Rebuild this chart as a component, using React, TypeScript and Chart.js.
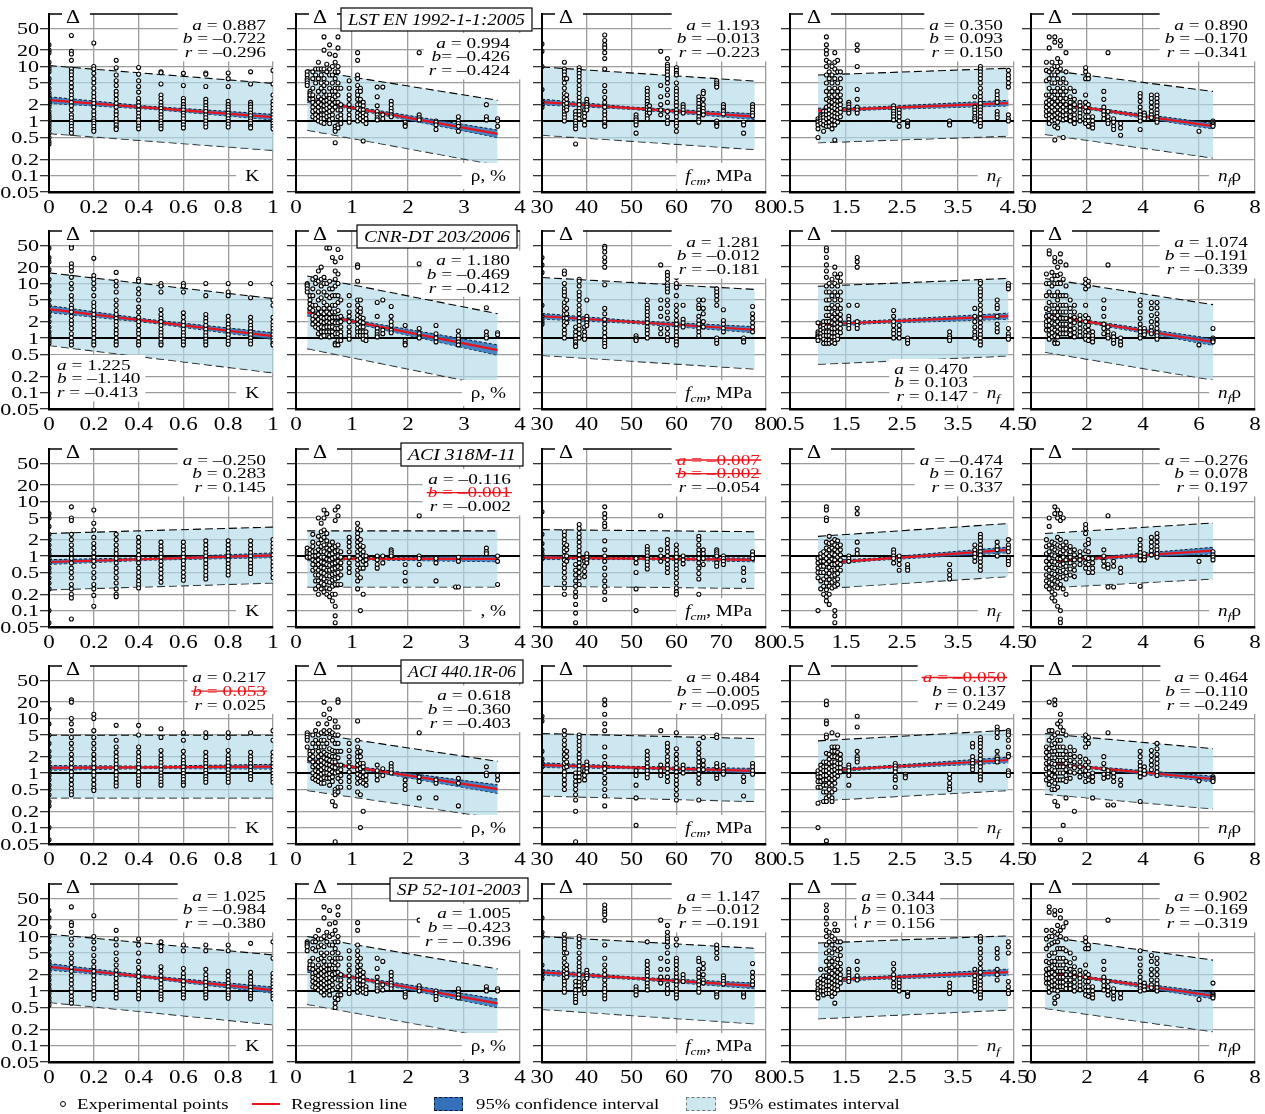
import React, { useEffect, useRef } from 'react';
import { Chart, registerables } from 'chart.js';
Chart.register(...registerables);

type Cluster = [number, number[]];

// ---------- axes ----------
const Y_MIN = 0.05, Y_MAX = 92;
const Y_TICKS = [0.05, 0.1, 0.2, 0.5, 1, 2, 5, 10, 20, 50];
const X_MIN = [0, 0, 30, 0.5, 0];
const X_MAX = [1, 4, 80, 4.5, 8];
const X_TICKS = [[0, 0.2, 0.4, 0.6, 0.8, 1], [0, 1, 2, 3, 4], [30, 40, 50, 60, 70, 80], [0.5, 1.5, 2.5, 3.5, 4.5], [0, 2, 4, 6, 8]];
const BAND_X = [[0, 1], [0.2, 3.6], [30, 77.5], [1, 4.4], [0.5, 6.5]];
const MID_X = [0.45, 1.0, 50, 2.0, 2.0];
const TITLES = ['LST EN 1992-1-1:2005', 'CNR-DT 203/2006', 'ACI 318M-11', 'ACI 440.1R-06', 'SP 52-101-2003'];

// ---------- regression parameters (ln Δ = a + b x) ----------
const REG_A = [
  [0.887, 0.994, 1.193, 0.350, 0.890],
  [1.225, 1.180, 1.281, 0.470, 1.074],
  [-0.250, -0.116, -0.007, -0.474, -0.276],
  [0.217, 0.618, 0.484, -0.050, 0.464],
  [1.025, 1.005, 1.147, 0.344, 0.902],
];
const REG_B = [
  [-0.722, -0.426, -0.013, 0.093, -0.170],
  [-1.140, -0.469, -0.012, 0.103, -0.191],
  [0.283, -0.001, -0.002, 0.167, 0.078],
  [0.053, -0.360, -0.005, 0.137, -0.110],
  [-0.984, -0.423, -0.012, 0.103, -0.169],
];
const STATS = [
  [['a = 0.887', 'b = –0.722', 'r = –0.296'], ['a = 0.994', 'b= –0.426', 'r = –0.424'], ['a = 1.193', 'b = –0.013', 'r = –0.223'], ['a = 0.350', 'b = 0.093', 'r = 0.150'], ['a = 0.890', 'b = –0.170', 'r = –0.341']],
  [['a = 1.225', 'b = –1.140', 'r = –0.413'], ['a = 1.180', 'b = –0.469', 'r = –0.412'], ['a = 1.281', 'b = –0.012', 'r = –0.181'], ['a = 0.470', 'b = 0.103', 'r = 0.147'], ['a = 1.074', 'b = –0.191', 'r = –0.339']],
  [['a = –0.250', 'b = 0.283', 'r = 0.145'], ['a = –0.116', 'b = –0.001', 'r = –0.002'], ['a = –0.007', 'b = –0.002', 'r = –0.054'], ['a = –0.474', 'b = 0.167', 'r = 0.337'], ['a = –0.276', 'b = 0.078', 'r = 0.197']],
  [['a = 0.217', 'b = 0.053', 'r = 0.025'], ['a = 0.618', 'b = –0.360', 'r = –0.403'], ['a = 0.484', 'b = –0.005', 'r = –0.095'], ['a = –0.050', 'b = 0.137', 'r = 0.249'], ['a = 0.464', 'b = –0.110', 'r = –0.249']],
  [['a = 1.025', 'b = –0.984', 'r = –0.380'], ['a = 1.005', 'b = –0.423', 'r = – 0.396'], ['a = 1.147', 'b = –0.012', 'r = –0.191'], ['a = 0.344', 'b = 0.103', 'r = 0.156'], ['a = 0.902', 'b = –0.169', 'r = –0.319']],
];
const STRUCK = [
  [[0, 0, 0], [0, 0, 0], [0, 0, 0], [0, 0, 0], [0, 0, 0]],
  [[0, 0, 0], [0, 0, 0], [0, 0, 0], [0, 0, 0], [0, 0, 0]],
  [[0, 0, 0], [0, 1, 0], [1, 1, 0], [0, 0, 0], [0, 0, 0]],
  [[0, 1, 0], [0, 0, 0], [0, 0, 0], [1, 0, 0], [0, 0, 0]],
  [[0, 0, 0], [0, 0, 0], [0, 0, 0], [0, 0, 0], [0, 0, 0]],
];
// 95% estimates interval: [upper@left, upper@right, lower@left, lower@right]
const EST = [
  [[10.4, 4.9, 0.59, 0.29], [8.7, 2.4, 0.68, 0.155], [9.8, 5.4, 0.55, 0.30], [7.0, 9.3, 0.40, 0.53], [8.7, 3.5, 0.57, 0.21]],
  [[15.7, 5.3, 0.73, 0.23], [13.8, 2.8, 0.64, 0.126], [12.9, 7.8, 0.48, 0.27], [8.9, 12.4, 0.33, 0.47], [12.4, 4.1, 0.55, 0.17]],
  [[2.6, 3.4, 0.24, 0.32], [2.9, 2.9, 0.27, 0.27], [3.05, 2.8, 0.28, 0.256], [2.3, 3.95, 0.25, 0.42], [2.6, 4.05, 0.26, 0.38]],
  [[4.95, 4.95, 0.35, 0.35], [5.5, 1.64, 0.48, 0.148], [5.3, 4.3, 0.38, 0.30], [3.9, 6.1, 0.31, 0.48], [5.3, 2.8, 0.41, 0.22]],
  [[11.1, 4.6, 0.62, 0.24], [10.0, 2.55, 0.57, 0.134], [10.0, 6.1, 0.46, 0.25], [7.6, 10.3, 0.31, 0.45], [10.0, 3.7, 0.48, 0.18]],
];
// 95% confidence interval half-widths (ln units) at left, middle, right
const CONF = [
  [[0.14, 0.06, 0.12], [0.12, 0.06, 0.16], [0.12, 0.05, 0.12], [0.10, 0.06, 0.12], [0.08, 0.05, 0.12]],
  [[0.15, 0.07, 0.14], [0.15, 0.07, 0.22], [0.12, 0.06, 0.13], [0.12, 0.06, 0.13], [0.10, 0.06, 0.14]],
  [[0.10, 0.05, 0.10], [0.08, 0.04, 0.12], [0.08, 0.04, 0.08], [0.10, 0.05, 0.12], [0.08, 0.05, 0.14]],
  [[0.10, 0.05, 0.10], [0.10, 0.05, 0.18], [0.10, 0.05, 0.10], [0.10, 0.05, 0.12], [0.08, 0.05, 0.12]],
  [[0.14, 0.06, 0.13], [0.12, 0.06, 0.18], [0.12, 0.05, 0.12], [0.10, 0.06, 0.13], [0.08, 0.05, 0.13]],
];

// ---------- experimental points: [x, [Δ values]] ----------
const P11: Cluster[] = [[0, [25, 20, 18, 12, 10, 9, 8, 6, 5, 4, 3.3, 3, 2.6, 2.2, 2, 1.8, 1.5, 1.3, 1.2, 1.1, 1, 0.9, 0.8, 0.7, 0.6, 0.5, 0.42, 0.38]], [0.1, [37, 19, 17, 13, 9, 8, 7, 6, 5, 4.2, 3.5, 3, 2.6, 2.2, 1.9, 1.6, 1.3, 1.15, 1, 0.9, 0.8, 0.7, 0.6]], [0.2, [27, 10, 9, 7.5, 6, 5, 4, 3.3, 2.8, 2.4, 2.1, 1.8, 1.5, 1.3, 1.1, 1, 0.9, 0.8, 0.7, 0.65]], [0.3, [13, 9.5, 7, 5.5, 4.5, 3.5, 3, 2.5, 2.1, 1.8, 1.5, 1.3, 1.1, 0.95, 0.85, 0.75, 0.7]], [0.4, [9.6, 7.2, 5.5, 4.3, 3.4, 2.6, 2.2, 1.9, 1.6, 1.4, 1.2, 1.05, 0.92, 0.8, 0.72]], [0.5, [8, 7.7, 4.8, 3, 2.6, 2.2, 1.9, 1.7, 1.5, 1.3, 1.15, 1, 0.9, 0.8, 0.72]], [0.6, [7.5, 4.5, 2.6, 2.3, 2, 1.8, 1.6, 1.4, 1.25, 1.1, 0.95, 0.85, 0.75]], [0.7, [7.6, 7.2, 4.3, 2.5, 2.2, 1.9, 1.7, 1.5, 1.3, 1.15, 1, 0.88, 0.78]], [0.8, [7.6, 6, 4.3, 2.3, 2, 1.8, 1.6, 1.4, 1.25, 1.1, 0.98, 0.88, 0.78]], [0.9, [8, 4.8, 2.2, 2, 1.8, 1.6, 1.4, 1.25, 1.1, 1, 0.9, 0.8, 0.75]], [1, [8.5, 4.8, 3, 2.3, 2, 1.7, 1.5, 1.3, 1.15, 1, 0.9, 0.8, 0.72]]];
const P12: Cluster[] = [[0.2, [8, 7, 6, 5.5, 5, 4.5]], [0.25, [3.5, 3.2, 3, 2.5]], [0.3, [8, 6, 4, 3, 2.5, 2.2, 1.8, 1.5, 1.2]], [0.35, [9, 7, 5, 2, 1.6, 1.3, 1.1]], [0.4, [12, 9, 6, 3.5, 2.8, 2.2, 1.8, 1.5, 1.2, 1]], [0.45, [9, 7, 5, 4, 2.5, 2, 1.6, 1.3, 1.1, 0.95]], [0.5, [35, 20, 9, 6, 4.5, 3.5, 2.8, 2.3, 1.9, 1.6, 1.3, 1.1, 0.9]], [0.55, [11, 8, 5, 3, 2.4, 2, 1.7, 1.4, 1.2]], [0.6, [25, 17, 9, 7, 4, 3, 2.6, 2.2, 1.8, 1.5, 1.25, 1.05, 0.9]], [0.65, [10, 7, 5, 3.5, 2.5, 2, 1.6, 1.3, 1.1]], [0.7, [16, 12, 8, 6, 4, 3.5, 2.8, 2.2, 1.8, 0.8, 0.7, 0.65, 0.4]], [0.75, [35, 22, 10, 8, 5, 4, 3, 2.2, 1.6, 1.2, 0.85, 0.75]], [0.8, [4, 2, 1.6, 1.3, 1.1, 0.9]], [0.95, [5.5, 4, 3, 2.5, 2, 1.6, 1.3, 1.1, 0.95]], [1.1, [18, 13, 7, 6, 4.5, 3.5, 3, 2.5, 2, 1.7, 1.4, 1.2, 1]], [1.15, [4, 3.5, 2.5, 2, 1.6, 1.3, 1.1]], [1.2, [2.2, 1.9, 1.6, 1.4, 1.2, 1, 0.43]], [1.25, [1.3, 1.1, 0.9]], [1.45, [4.2, 2.8, 1.9, 1.5, 1.3, 1.15, 1.05]], [1.55, [4.2, 1.3, 1.1]], [1.7, [2.3, 2, 1.7, 1.5, 1.3, 1.2]], [1.95, [0.95, 0.85, 0.8]], [2.2, [18, 1.3, 1.15, 1.05]], [2.5, [1, 0.95, 0.85, 0.7]], [2.9, [1.2, 1, 0.9, 0.8, 0.65]], [3.4, [2, 1.2, 1.05]], [3.6, [1.1, 1, 0.8]]];
const P13: Cluster[] = [[30, [26, 19, 10, 3.8, 2.3, 2, 1.8]], [35, [12, 9, 8, 7, 6, 5, 4, 3.2, 2.7, 2.3, 2, 1.7, 1.5, 1.3, 1.15, 1]], [35.5, [6, 3, 2.5, 2.1, 1.8, 1.6]], [37.5, [1.5, 1.3, 1.15, 1, 0.9, 0.8, 0.72, 0.38]], [38.3, [9.5, 8.5, 7.5, 6.5, 5.5, 4.5, 3.8, 3.2, 2.7, 2.3, 2, 1.7, 1.5, 1.3, 1.1]], [39.5, [1.6, 1.4, 1.2, 1, 0.85]], [40, [2.5, 2.2, 2, 1.8, 1.6]], [44, [38, 30, 25, 22, 18, 14, 9, 4.5, 3.5, 2.7, 2.2, 1.8, 1.5, 1.3, 1.1, 0.95, 0.85, 0.8]], [51, [1.3, 1.15, 1.05, 0.95, 0.85, 0.6]], [53.5, [4, 3.5, 3, 2.6, 2.3, 2, 1.8, 1.6, 1.4, 1.25, 1.1]], [54, [1.9, 1.6, 1.4]], [56.5, [19, 4.5, 2.8, 2, 1.6, 1.3]], [58, [14, 11, 10, 9, 8, 7, 6, 5, 3.8, 3, 2.2, 1.5, 1.2, 1, 0.9]], [60, [9.5, 8.5, 7.5, 7, 5, 4, 3.5, 3, 2.6, 2.2, 1.9, 1.6, 1.4, 1.2, 1, 0.9, 0.8, 0.65]], [61.5, [2, 1.8, 1.6, 1.4]], [65, [2.8, 2.4, 2.1, 1.8, 1.6, 1.4, 1.2, 1.05, 0.95]], [66, [3.5, 3.2, 2.5, 2, 1.7, 1.5, 1.3]], [69, [5.5, 5, 4.6, 4.2, 1, 0.9, 0.85, 0.8]], [70.5, [2, 1.8, 1.6, 1.5, 1.35]], [75, [0.95, 0.85, 0.6]], [77, [2, 1.8, 1.6, 1.4, 1.25]]];
const P14: Cluster[] = [[1, [1.1, 1, 0.95, 0.85, 0.72, 0.5]], [1.05, [1.3, 1.2, 1.1, 1, 0.9]], [1.1, [1.5, 1.3, 1.15, 1, 0.85, 0.65]], [1.15, [35, 25, 20, 17, 13, 10, 7, 5, 3.5, 2.5, 1.8, 1.5, 1.3, 1.1, 0.9, 0.8]], [1.2, [12, 8, 6, 4, 3, 2.3, 1.9, 1.6, 1.35, 1.15, 0.95, 0.8]], [1.25, [10, 7, 5, 3.5, 2.8, 2.2, 1.8, 1.5, 1.25, 1.05, 0.85, 0.72]], [1.3, [18, 12, 9, 6, 4, 3, 2.4, 2, 1.7, 1.4, 1.2, 1, 0.85, 0.45]], [1.35, [13, 8, 5, 3.5, 2.8, 2.3, 1.9, 1.6, 1.35, 1.15, 0.95]], [1.4, [8, 6, 4, 3, 2.4, 2, 1.7, 1.45, 1.2]], [1.55, [2.2, 2, 1.8, 1.6, 1.5, 1.4]], [1.7, [25, 20, 10, 3.8, 2.5, 1.8, 1.6, 1.4]], [2.35, [1.9, 1.7, 1.5, 1.35, 1.2, 1.05]], [2.45, [1.6, 1.4, 1.2, 1, 0.8]], [2.6, [1, 0.9, 0.85, 0.8]], [3.35, [1, 0.9, 0.85]], [3.8, [2.8, 1.8, 1.6, 1.4, 1.2, 1.1, 1]], [3.9, [10, 9, 8, 7, 6, 5, 4, 3.3, 2.8, 2.4, 2.1, 1.8, 1.6, 1.4, 1.2, 1.05, 0.9, 0.8]], [4.2, [3.5, 3, 2.6, 2.2, 1.5, 1.3, 1.15]], [4.4, [8.5, 7, 6, 5, 4.2, 1.3, 1.1, 1]]];
const P15: Cluster[] = [[0.55, [12, 8.5, 5.5, 3, 2.2, 1.8, 1.5, 1.25]], [0.65, [35, 22, 8, 6, 4, 3, 2.4, 2, 1.6, 1.3, 1.1, 0.9]], [0.75, [12, 9, 7, 5, 3.5, 2.8, 2.2, 1.8, 1.5, 1.2, 1]], [0.85, [35, 28, 10, 7, 5, 3.5, 2.6, 2, 1.6, 1.3, 1.05, 0.8, 0.45]], [0.95, [14, 10, 8, 6, 4, 3, 2.3, 1.8, 1.4, 1.15, 0.95, 0.75]], [1.05, [30, 24, 12, 9, 5, 3.5, 2.6, 2, 1.6, 1.3, 1.1]], [1.15, [6, 4, 3, 2.3, 1.8, 1.5, 1.25, 1.05, 0.5]], [1.25, [18, 8, 5, 3.5, 2.6, 2, 1.6, 1.3, 1.1]], [1.4, [4, 2.8, 2.2, 1.8, 1.5, 1.2, 1]], [1.55, [3.5, 2.5, 2, 1.6, 1.3, 1.1, 0.9]], [1.75, [2.2, 1.9, 1.6, 1.4, 1.2, 1]], [1.95, [9.5, 8, 6, 3, 2.2, 1.8, 1.5, 1.2, 1, 0.9]], [2.05, [7, 6, 2, 1.5, 1.2, 1, 0.8]], [2.2, [1.2, 1, 0.85, 0.75]], [2.6, [3.5, 2.5, 1.8, 1.5, 1.3, 1.1]], [2.75, [18, 1.5, 1.2, 1, 0.9]], [2.95, [1.1, 0.95, 0.8, 0.7]], [3.2, [0.9, 0.75, 0.55]], [3.9, [3.2, 2.8, 2.3, 1.8, 1.5, 1.3, 1.15, 1, 0.7]], [4.05, [1.4, 1.25, 1.1]], [4.3, [3, 2.6, 2.2, 1.8, 1.5, 1.3, 1.15]], [4.5, [3, 2.6, 2.2, 1.9, 1.6, 1.4, 1.2, 1.05, 0.95]], [6, [0.65]], [6.5, [1, 0.95, 0.9, 0.85, 0.8]]];

const P21: Cluster[] = [[0, [45, 30, 25, 18, 12, 9, 7, 5, 4, 3, 2.5, 2, 1.6, 1.3, 1.1, 0.9, 0.8]], [0.1, [48, 45, 23, 20, 17, 13, 10, 8, 6, 5, 4, 3.5, 3, 2.5, 2.1, 1.8, 1.5, 1.2, 1, 0.85, 0.75]], [0.2, [29, 14, 12, 10, 8, 6, 4.5, 3.8, 3.2, 2.7, 2.3, 2, 1.7, 1.4, 1.2, 1, 0.85, 0.75]], [0.3, [16, 11, 9, 7, 5, 4, 3.2, 2.7, 2.3, 2, 1.7, 1.4, 1.2, 1, 0.85, 0.75]], [0.4, [12, 11, 8, 6.5, 5, 3.7, 3, 2.4, 2, 1.7, 1.4, 1.2, 1, 0.85, 0.75]], [0.5, [10, 9, 7, 3.3, 2.7, 2.3, 2, 1.7, 1.45, 1.25, 1.1, 0.95, 0.82, 0.75]], [0.6, [10, 9, 7, 2.9, 2.4, 2, 1.7, 1.45, 1.25, 1.1, 0.95, 0.85, 0.75]], [0.7, [10, 6, 2.7, 2.3, 2, 1.7, 1.45, 1.25, 1.1, 0.95, 0.85, 0.75]], [0.8, [10, 7, 6, 2.5, 2.1, 1.8, 1.55, 1.35, 1.15, 1, 0.88, 0.77]], [0.9, [10, 5.5, 2.4, 2, 1.7, 1.5, 1.3, 1.15, 1, 0.88, 0.78]], [1, [10, 5, 4, 2.4, 2, 1.7, 1.5, 1.3, 1.15, 1, 0.9, 0.8, 0.75]]];
const P22: Cluster[] = [[0.2, [10, 9.5, 9, 8, 7]], [0.25, [6, 5, 4.2, 3.5]], [0.3, [12, 8, 6, 4, 3.2, 2.6, 2.2, 1.8]], [0.35, [13, 10, 4, 2.5, 2, 1.6]], [0.4, [17, 11, 7, 5, 3.5, 2.8, 2.2, 1.8, 1.5, 1.2]], [0.45, [20, 12, 9, 5.5, 3, 2.4, 2, 1.6, 1.3, 1.05]], [0.5, [13, 10, 7, 4.5, 3.5, 2.8, 2.3, 1.9, 1.55, 1.3, 1.1]], [0.55, [45, 10, 6, 4, 3, 2.4, 2, 1.6, 1.3]], [0.6, [45, 11, 8, 5.5, 3.5, 2.8, 2.3, 1.9, 1.6, 1.3, 1.05]], [0.65, [30, 8, 6, 4, 3, 2.4, 2, 1.6, 1.3, 1.1]], [0.7, [25, 17, 12, 9, 6, 4, 3, 2.4, 1.9, 1.5, 1.2, 0.8, 0.75]], [0.75, [42, 15, 10, 6, 4.5, 3.2, 2.4, 1.9, 1.5, 1.2, 0.9, 0.75]], [0.8, [30, 5, 2.5, 2, 1.6, 1.3, 1.1, 0.9]], [0.95, [6, 4, 3, 2.5, 2, 1.6, 1.3, 1.1, 0.95]], [1.1, [22, 20, 11, 5, 4, 3.2, 2.6, 2.2, 1.8, 1.5, 1.3, 1.1]], [1.15, [5, 3.5, 3, 2.4, 2, 1.6, 1.3, 1.1]], [1.2, [2.3, 1.9, 1.6, 1.3, 1.1, 0.95]], [1.25, [1.3, 1.1, 0.9]], [1.45, [4.5, 2.5, 1.5, 1.3, 1.15, 1.05]], [1.55, [5, 1.4, 1.2]], [1.7, [3.8, 2.5, 2, 1.7, 1.4, 1.25]], [1.95, [1.7, 0.9, 0.8, 0.75]], [2.2, [23, 1.5, 1.2, 1.05, 1]], [2.5, [1.7, 1.2, 1, 0.85]], [2.9, [1.35, 1.1, 0.95, 0.85, 0.75]], [3.4, [3.6, 1.3, 1.1, 1]], [3.6, [1.25, 1.15]]];
const P23: Cluster[] = [[30, [30, 22, 16, 4, 2.5, 2, 1.8]], [35, [17, 15, 10, 8, 7, 6, 4.5, 3.8, 3.2, 2.7, 2.3, 2, 1.7, 1.4, 1.2, 1]], [35.5, [5, 3.5, 2.8, 2.3, 1.9]], [37.5, [1.6, 1.3, 1.1, 0.95, 0.85, 0.75, 0.7]], [38.3, [12, 11, 9, 7, 6, 5, 4, 3.3, 2.8, 2.3, 2, 1.7, 1.45, 1.2, 1]], [39.5, [1.6, 1.3, 1.1, 0.95]], [40, [5, 2.5, 2.2, 1.9, 1.7]], [44, [48, 45, 38, 30, 25, 20, 9.5, 3.5, 2.8, 2.2, 1.8, 1.5, 1.25, 1.05, 0.9, 0.8, 0.7]], [51, [1.1, 1, 0.95, 0.9]], [53.5, [5, 4, 3.5, 3, 2.6, 2.2, 1.9, 1.6, 1.4, 1.2, 1]], [56.5, [22, 5, 3.5, 2.5, 1.5, 1.2]], [58, [16, 14, 12, 10, 9, 8, 7, 5, 4, 3, 2.3, 1.5, 1.2, 1, 0.9]], [60, [19, 13, 10, 8.5, 6, 4, 3.2, 2.6, 2.1, 1.8, 1.5, 1.3, 1.1, 0.95, 0.85, 0.75]], [61.5, [4, 2.2, 1.9, 1.6]], [65, [5, 4, 3.5, 2.5, 2.1, 1.8, 1.5, 1.3, 1.1]], [66, [5, 3.5, 2.8, 2, 1.6]], [69, [8, 7, 6, 5, 4, 1, 0.9, 0.8]], [70.5, [3.3, 2.1, 1.8, 1.5, 1.3]], [75, [1, 0.9, 0.85]], [77, [3.8, 2.8, 2.3, 1.9, 1.6, 1.3]]];
const P24: Cluster[] = [[1, [1.9, 1.3, 1.2, 1.1, 1.05, 1, 0.9]], [1.05, [1.6, 1.4, 1.2, 1.05]], [1.1, [2, 1.7, 1.5, 1.3, 1.1, 0.95, 0.8]], [1.15, [45, 40, 30, 22, 17, 13, 9, 7, 5, 3.5, 2.6, 2, 1.6, 1.3, 1.1, 0.9, 0.8]], [1.2, [10, 7, 5, 3.5, 2.6, 2, 1.6, 1.3, 1.1, 0.9, 0.8]], [1.25, [12, 9, 6, 4, 3, 2.4, 1.9, 1.5, 1.25, 1.05, 0.85]], [1.3, [20, 15, 10, 7, 5, 3.6, 2.8, 2.2, 1.8, 1.5, 1.25, 1.05, 0.9, 0.8]], [1.35, [13, 9, 6, 4, 3, 2.4, 1.9, 1.6, 1.3, 1.1, 0.95]], [1.4, [15, 11, 7, 5, 3.5, 2.7, 2.2, 1.8, 1.5, 1.25]], [1.55, [4, 2.5, 2.2, 1.9, 1.7, 1.5]], [1.7, [30, 25, 20, 4, 2, 1.7, 1.5]], [2.35, [3.2, 2.5, 2, 1.7, 1.4, 1.2, 1]], [2.45, [1.7, 1.4, 1.2, 1]], [2.6, [1, 0.9, 0.8]], [3.35, [1.3, 1.1, 1, 0.9]], [3.8, [3.5, 2.5, 2, 1.6, 1.3, 1.1, 1]], [3.9, [11, 10, 8, 7, 6, 5, 4, 3.3, 2.8, 2.3, 1.9, 1.6, 1.35, 1.15, 1, 0.85, 0.75]], [4.2, [5, 4, 3.5, 2.5, 1.8, 1.5, 1.3]], [4.4, [10, 9, 8, 1.5, 1.2, 1.05, 0.95]]];
const P25: Cluster[] = [[0.55, [15, 10, 6, 3.5, 2.5, 2, 1.7, 1.4]], [0.65, [40, 35, 10, 7, 4.5, 3.3, 2.6, 2.1, 1.7, 1.4, 1.15, 0.95]], [0.75, [16, 12, 9, 6, 4, 3, 2.4, 1.9, 1.5, 1.25, 1.05]], [0.85, [30, 25, 14, 10, 6, 4, 3, 2.3, 1.8, 1.4, 1.1, 0.85, 0.8]], [0.95, [20, 14, 10, 7, 5, 3.5, 2.6, 2, 1.6, 1.3, 1.05, 0.8]], [1.05, [35, 25, 15, 10, 6, 4, 3, 2.3, 1.8, 1.45, 1.2]], [1.15, [12, 6, 4, 3, 2.3, 1.8, 1.45, 1.2]], [1.25, [22, 9, 6, 4, 3, 2.3, 1.8, 1.45, 1.2]], [1.4, [5, 3.5, 2.6, 2.1, 1.7, 1.4, 1.15]], [1.55, [4, 3, 2.4, 1.9, 1.5, 1.25, 1.05]], [1.75, [2.6, 2.2, 1.8, 1.5, 1.3, 1.1]], [1.95, [12, 10, 8, 4, 2.6, 2, 1.6, 1.3, 1.1, 0.95]], [2.05, [11, 9, 2.3, 1.7, 1.4, 1.1, 0.9]], [2.2, [1.3, 1.1, 0.95, 0.85]], [2.6, [5, 3.5, 2.5, 1.8, 1.5, 1.2]], [2.75, [22, 1.6, 1.3, 1.1, 1]], [2.95, [1.2, 1.05, 0.9, 0.8]], [3.2, [1, 0.85, 0.75]], [3.9, [5, 4, 3, 2.3, 1.8, 1.5, 1.3, 1.1, 1]], [4.05, [1.5, 1.3, 1.15]], [4.3, [4.5, 3.5, 2.6, 2, 1.6, 1.35, 1.2]], [4.5, [4.5, 3.6, 2.8, 2.2, 1.8, 1.5, 1.25, 1.1, 0.95]], [6, [0.75]], [6.5, [1.5, 1, 0.95, 0.9, 0.85]]];

const P31: Cluster[] = [[0, [6, 5, 3.5, 2.5, 2, 1.6, 1.3, 1.1, 0.9, 0.75, 0.6, 0.5, 0.4, 0.32, 0.25, 0.1, 0.06]], [0.1, [8, 5, 4.5, 2.5, 2, 1.6, 1.3, 1.1, 0.9, 0.75, 0.6, 0.5, 0.4, 0.3, 0.25, 0.2, 0.17, 0.07]], [0.2, [7, 4, 3, 2.2, 1.7, 1.4, 1.15, 0.95, 0.8, 0.65, 0.5, 0.4, 0.3, 0.25, 0.19, 0.12]], [0.3, [2.5, 2, 1.6, 1.3, 1.1, 0.9, 0.75, 0.6, 0.5, 0.4, 0.32, 0.25, 0.2, 0.18]], [0.4, [2.2, 1.8, 1.5, 1.25, 1.05, 0.9, 0.75, 0.6, 0.5, 0.42, 0.35, 0.3, 0.26]], [0.5, [1.8, 1.5, 1.3, 1.1, 0.95, 0.8, 0.68, 0.57, 0.48, 0.4, 0.33]], [0.6, [1.8, 1.5, 1.3, 1.1, 0.95, 0.82, 0.7, 0.6, 0.5, 0.42, 0.36]], [0.7, [1.9, 1.6, 1.35, 1.15, 1, 0.85, 0.72, 0.62, 0.52, 0.44, 0.38]], [0.8, [1.9, 1.6, 1.35, 1.15, 1, 0.85, 0.72, 0.62, 0.52, 0.45]], [0.9, [1.9, 1.6, 1.35, 1.15, 1, 0.86, 0.74, 0.64, 0.55, 0.48]], [1, [2, 1.7, 1.45, 1.25, 1.05, 0.9, 0.78, 0.66, 0.56, 0.48, 0.4]]];
const P32: Cluster[] = [[0.2, [1.4, 1.2, 1.1, 1, 0.95]], [0.25, [1.3, 1.1, 0.95]], [0.3, [2.5, 1.8, 1.5, 1.2, 1, 0.85, 0.7, 0.55]], [0.35, [1.2, 1, 0.8, 0.6, 0.45, 0.35, 0.25]], [0.4, [5, 2.3, 1.7, 1.3, 1.05, 0.85, 0.7, 0.55, 0.45, 0.35, 0.28, 0.2]], [0.45, [4, 2.8, 2, 1.5, 1.2, 0.95, 0.78, 0.62, 0.5, 0.4, 0.32, 0.25]], [0.5, [7, 5, 3, 2.2, 1.6, 1.2, 0.95, 0.75, 0.6, 0.48, 0.38, 0.3, 0.22]], [0.55, [6, 2.6, 1.9, 1.4, 1.1, 0.88, 0.7, 0.55, 0.44, 0.34, 0.26, 0.2]], [0.6, [1.6, 1.3, 1.05, 0.85, 0.68, 0.55, 0.43, 0.33, 0.25, 0.18]], [0.65, [1.8, 1.4, 1.1, 0.9, 0.72, 0.58, 0.46, 0.36, 0.28, 0.2, 0.15]], [0.7, [7, 4.5, 1.5, 1.2, 0.95, 0.75, 0.6, 0.48, 0.38, 0.3, 0.2, 0.12, 0.08, 0.06]], [0.75, [8, 5.5, 1.6, 1.25, 1, 0.8, 0.64, 0.5, 0.4, 0.3]], [0.8, [1.2, 0.95, 0.75, 0.6, 0.45, 0.3]], [0.95, [2.2, 1.8, 1.5, 1.2, 0.95, 0.75, 0.6, 0.5]], [1.1, [4, 3.2, 2.6, 2.2, 1.8, 1.5, 1.2, 1, 0.85, 0.7, 0.55, 0.45, 0.35, 0.25]], [1.15, [3, 2, 1.6, 1.3, 0.9, 0.6, 0.4, 0.1]], [1.2, [1.5, 1.2, 1, 0.8, 0.6, 0.2]], [1.25, [1, 0.85, 0.7]], [1.45, [1, 0.85, 0.7, 0.6]], [1.55, [1, 0.75]], [1.7, [1.3, 1.2, 1.1, 1]], [1.95, [0.7, 0.5, 0.35]], [2.2, [5.5, 1, 0.9, 0.7]], [2.5, [0.9, 0.75, 0.35]], [2.85, [0.27]], [2.9, [0.95, 0.8, 0.27]], [3.4, [1.4, 1.2, 1.1]], [3.6, [1, 0.8, 0.3]]];
const P33: Cluster[] = [[30, [6.5, 2.5, 1.7, 1.3, 1.1, 0.9]], [35, [2.8, 2.4, 2, 1.7, 1.4, 1.2, 1, 0.85, 0.7, 0.6, 0.5, 0.4, 0.32, 0.26, 0.2]], [35.5, [1.6, 1.3, 1, 0.8]], [37.5, [0.7, 0.55, 0.45, 0.35, 0.28, 0.22, 0.18, 0.13, 0.09, 0.06]], [38.3, [3.8, 3.2, 2.6, 2.2, 1.8, 1.5, 1.25, 1.05, 0.88, 0.75, 0.62, 0.5, 0.4, 0.3]], [39.5, [0.8, 0.65, 0.52, 0.42]], [40, [1.1, 0.95, 0.85, 0.75]], [44, [8, 6, 5, 4, 3.5, 1.9, 1.3, 1, 0.8, 0.6, 0.45, 0.35, 0.28, 0.22, 0.16]], [51, [0.9, 0.75, 0.5, 0.25, 0.1]], [53.5, [1.5, 1.3, 1.15, 1, 0.88, 0.78, 0.68, 0.58]], [56.5, [5.5, 1.3, 1, 0.8]], [58, [2, 1.7, 1.4, 1.2, 1, 0.85, 0.7, 0.6, 0.5]], [60, [1.6, 1.3, 1.1, 0.95, 0.8, 0.68, 0.58, 0.48, 0.4, 0.32, 0.26, 0.22, 0.2]], [61.5, [1, 0.85, 0.72]], [65, [2.3, 2, 1.6, 1.3, 1.1, 0.9, 0.75, 0.6, 0.48, 0.38, 0.2]], [66, [1.3, 1.1, 0.9, 0.7]], [69, [1.3, 1.2, 1.1, 1, 0.75, 0.65]], [70.5, [1, 0.9, 0.8, 0.7]], [75, [0.6, 0.5, 0.36]], [77, [1.2, 1.05, 0.9]]];
const P34: Cluster[] = [[1, [0.9, 0.75, 0.6, 0.5, 0.4, 0.1]], [1.05, [1.1, 0.95, 0.8, 0.65, 0.5, 0.35, 0.25]], [1.1, [1.2, 1, 0.8, 0.65, 0.5, 0.38, 0.28, 0.2]], [1.15, [8, 7, 5, 4.5, 1.8, 1.4, 1.1, 0.9, 0.72, 0.55, 0.42, 0.32, 0.24, 0.18, 0.15]], [1.2, [2.3, 1.7, 1.3, 1, 0.8, 0.62, 0.48, 0.37, 0.28, 0.2, 0.13]], [1.25, [1.8, 1.4, 1.1, 0.88, 0.7, 0.55, 0.43, 0.33, 0.26]], [1.3, [2, 1.6, 1.3, 1.05, 0.85, 0.7, 0.56, 0.45, 0.36, 0.28, 0.1, 0.08, 0.06]], [1.35, [1.9, 1.5, 1.2, 0.95, 0.75, 0.6, 0.48, 0.38, 0.3]], [1.4, [1.6, 1.3, 1.05, 0.85, 0.7, 0.55]], [1.55, [1, 0.9, 0.8]], [1.7, [7.5, 6, 1.8, 1.3, 1.1]], [2.35, [1.3, 1.15, 1, 0.9, 0.75]], [2.45, [1, 0.85, 0.7, 0.55]], [2.6, [0.7, 0.6, 0.55]], [3.35, [0.7, 0.55, 0.45, 0.38]], [3.8, [1.6, 1.3, 1.1, 0.95, 0.8]], [3.9, [2.5, 2.2, 1.9, 1.6, 1.4, 1.2, 1.05, 0.9, 0.78, 0.65, 0.55]], [4.2, [1.8, 1.5, 1.3, 1]], [4.4, [2, 1.6, 1.4, 1.2, 0.9, 0.8, 0.7]]];
const P35: Cluster[] = [[0.55, [2, 1.5, 1.1, 0.8, 0.6, 0.45, 0.35, 0.28]], [0.65, [5, 3.5, 1.6, 1.2, 0.9, 0.7, 0.55, 0.42, 0.32, 0.25]], [0.75, [1.8, 1.4, 1.05, 0.8, 0.62, 0.48, 0.38, 0.3, 0.22, 0.17]], [0.85, [8, 6, 1.7, 1.3, 1, 0.78, 0.6, 0.46, 0.35, 0.27, 0.2, 0.15]], [0.95, [7, 5, 2.2, 1.6, 1.2, 0.9, 0.7, 0.54, 0.42, 0.33, 0.26, 0.12]], [1.05, [6, 4.5, 2, 1.5, 1.15, 0.88, 0.68, 0.52, 0.4, 0.3, 0.1, 0.07, 0.06]], [1.15, [5, 1.6, 1.25, 0.95, 0.72, 0.55, 0.42, 0.25]], [1.25, [1.8, 1.4, 1.1, 0.85, 0.65, 0.5, 0.38, 0.2]], [1.4, [1.5, 1.2, 0.95, 0.75, 0.58, 0.45]], [1.55, [1.3, 1.05, 0.85, 0.68, 0.55, 0.42]], [1.75, [1.2, 1, 0.85, 0.7]], [1.95, [3.8, 3.2, 2.6, 1.6, 1.25, 0.95, 0.75, 0.6]], [2.05, [2, 1.7, 1.2, 0.9, 0.7, 0.5]], [2.2, [0.9, 0.75, 0.6, 0.5]], [2.6, [1.3, 1, 0.8, 0.65]], [2.75, [5.5, 0.7, 0.6, 0.27]], [2.95, [0.8, 0.65, 0.27]], [3.2, [0.6, 0.5]], [3.9, [2, 1.6, 1.35, 1.15, 1, 0.85, 0.28]], [4.05, [1.1, 0.95, 0.85]], [4.3, [2.2, 1.8, 1.5, 1.25, 1.05]], [4.5, [2.6, 2.2, 1.8, 1.5, 1.3, 1.1, 0.95]], [6, [0.8]], [6.5, [1.2, 1.05, 0.95, 0.85]]];

const P41: Cluster[] = [[0, [15, 8, 5, 3.5, 2.5, 2, 1.6, 1.3, 1.1, 0.9, 0.75, 0.6, 0.5, 0.4, 0.3, 0.25, 0.1, 0.06]], [0.1, [22, 20, 10, 8, 6, 4.5, 3.5, 2.8, 2.2, 1.8, 1.5, 1.25, 1.05, 0.9, 0.75, 0.62, 0.52, 0.45, 0.4]], [0.2, [12, 10, 6, 4.5, 3.5, 2.8, 2.2, 1.8, 1.5, 1.25, 1.05, 0.9, 0.75, 0.62, 0.52, 0.48]], [0.3, [7.5, 4, 3, 2.4, 2, 1.7, 1.45, 1.25, 1.05, 0.9, 0.78, 0.66, 0.58]], [0.4, [7.5, 5, 3, 2.4, 2, 1.7, 1.45, 1.25, 1.05, 0.9, 0.78, 0.68, 0.6]], [0.5, [6.5, 4.5, 2.6, 2.1, 1.8, 1.55, 1.35, 1.15, 1, 0.88, 0.78, 0.68, 0.6]], [0.6, [5.5, 4, 2.5, 2, 1.7, 1.5, 1.3, 1.12, 0.98, 0.86, 0.76, 0.66, 0.6]], [0.7, [5.5, 4.5, 2.4, 2, 1.7, 1.5, 1.3, 1.12, 0.98, 0.86, 0.76, 0.68]], [0.8, [5.5, 4.5, 2.6, 2.1, 1.8, 1.55, 1.35, 1.15, 1, 0.88, 0.78, 0.68]], [0.9, [5.5, 2.4, 2, 1.75, 1.5, 1.3, 1.12, 0.98, 0.86, 0.76]], [1, [6, 4, 2.4, 2, 1.75, 1.5, 1.3, 1.12, 0.98, 0.86, 0.76, 0.68]]];
const P42: Cluster[] = [[0.2, [5.5, 5, 4.5, 4, 3]], [0.25, [2.5, 2.2, 1.8]], [0.3, [5, 3.5, 2.5, 2, 1.6, 1.3, 1, 0.8]], [0.35, [6, 4, 3, 1.4, 1.1, 0.9, 0.75]], [0.4, [8, 5, 3.5, 2.5, 2, 1.6, 1.3, 1.05, 0.85, 0.7]], [0.45, [5.5, 4, 3, 2.2, 1.7, 1.4, 1.15, 0.95, 0.78, 0.65]], [0.5, [20, 12, 6, 4, 3, 2.4, 1.9, 1.55, 1.25, 1, 0.82, 0.65]], [0.55, [8, 5.5, 3.5, 2.2, 1.8, 1.45, 1.2, 1, 0.8]], [0.6, [15, 10, 6, 4.5, 2.8, 2.1, 1.7, 1.4, 1.15, 0.95, 0.8, 0.6]], [0.65, [5.5, 4, 2.6, 2, 1.6, 1.3, 1.05, 0.85, 0.7, 0.3]], [0.7, [9, 7, 5, 3.5, 2.5, 2, 1.6, 1.25, 1, 0.5, 0.45, 0.4, 0.25, 0.055]], [0.75, [22, 20, 7, 5, 3.5, 2.5, 1.9, 1.4, 1.05, 0.8, 0.55, 0.45]], [0.8, [2.5, 1.4, 1.15, 0.9, 0.7, 0.55]], [0.95, [3.5, 2.6, 2, 1.6, 1.3, 1.05, 0.85, 0.7, 0.55]], [1.1, [9, 4, 3, 2.4, 2, 1.7, 1.4, 1.15, 0.95, 0.8, 0.65, 0.45]], [1.15, [2.5, 2, 1.5, 1.2, 0.9, 0.7, 0.4, 0.1]], [1.2, [1.5, 1.3, 1.05, 0.85, 0.65, 0.2]], [1.25, [0.9, 0.75, 0.6]], [1.45, [1.4, 1.1, 0.9, 0.75]], [1.55, [1.2, 0.9]], [1.7, [1.5, 1.3, 1.15, 1]], [1.95, [0.75, 0.6, 0.5]], [2.2, [5.5, 0.85, 0.7, 0.35]], [2.5, [0.75, 0.65, 0.35]], [2.9, [0.8, 0.65, 0.25]], [3.4, [1.3, 1, 0.9]], [3.6, [0.9, 0.75]]];
const P43: Cluster[] = [[30, [11, 9, 2.5, 1.8, 1.5, 1.3]], [35, [6, 5, 4, 3.3, 2.7, 2.2, 1.8, 1.5, 1.25, 1.05, 0.9, 0.75, 0.62, 0.5]], [35.5, [2.5, 2, 1.6, 1.3]], [37.5, [1, 0.85, 0.7, 0.6, 0.5, 0.4, 0.32, 0.2, 0.055]], [38.3, [5, 4.5, 3.8, 3.2, 2.7, 2.2, 1.9, 1.6, 1.35, 1.15, 1, 0.85, 0.72]], [39.5, [1.1, 0.9, 0.75]], [40, [1.6, 1.4, 1.2, 1.05]], [44, [22, 18, 12, 8, 6, 3, 2, 1.5, 1.2, 1, 0.8, 0.65, 0.5, 0.38, 0.25]], [51, [1.1, 0.9, 0.6, 0.35, 0.11]], [53.5, [2.5, 2.1, 1.8, 1.5, 1.3, 1.1, 0.95, 0.82]], [56.5, [6, 1.4, 1.1, 0.9]], [58, [3.5, 3, 2.5, 2, 1.7, 1.4, 1.2, 1, 0.85, 0.7]], [60, [5.5, 2.8, 2.2, 1.8, 1.5, 1.25, 1.05, 0.88, 0.74, 0.62, 0.5, 0.4, 0.32]], [61.5, [1.4, 1.2, 1]], [65, [3.5, 2.8, 2.3, 1.9, 1.6, 1.35, 1.15, 0.95, 0.8, 0.65, 0.32]], [66, [4.5, 1.7, 1.4, 1.15]], [69, [5, 4.5, 1.5, 1.3, 0.9, 0.8]], [70.5, [1.4, 1.2, 1.05, 0.95]], [75, [0.85, 0.7, 0.38]], [77, [1.5, 1.3, 1.1, 0.95]]];
const P44: Cluster[] = [[1, [1.1, 0.95, 0.85, 0.7, 0.55, 0.28, 0.1]], [1.05, [1.4, 1.2, 1, 0.85, 0.7, 0.55]], [1.1, [1.6, 1.3, 1.1, 0.9, 0.75, 0.6, 0.45, 0.3]], [1.15, [21, 18, 9, 8, 5, 4.5, 2.3, 1.6, 1.3, 1.1, 0.9, 0.75, 0.6, 0.45, 0.35, 0.3, 0.057]], [1.2, [2.2, 1.8, 1.5, 1.2, 1, 0.8, 0.65, 0.5, 0.38]], [1.25, [5.5, 3, 2.5, 2, 1.6, 1.3, 1.1, 0.9, 0.75, 0.6, 0.45, 0.35, 0.3]], [1.3, [3, 2.5, 2, 1.6, 1.35, 1.15, 0.95, 0.8, 0.65, 0.5]], [1.35, [5, 3, 2.4, 1.9, 1.5, 1.25, 1.05, 0.88]], [1.4, [2.2, 1.8, 1.5, 1.25, 1.05]], [1.55, [1.4, 1.25, 1.1, 0.9, 0.6]], [1.7, [11, 7, 2.5, 2, 1.8, 1.6]], [2.38, [1.5, 1.35, 1.2, 1.05, 0.85, 0.75, 0.55]], [2.56, [0.95, 0.88, 0.82]], [3.35, [0.95, 0.8, 0.65, 0.55, 0.5]], [3.76, [3.5, 3, 2, 1.7, 1.5, 1.3, 1.15]], [3.9, [4.5, 4, 3.5, 3, 2.5, 2.1, 1.8, 1.5, 1.3, 1.1, 0.95, 0.85, 0.75]], [4.2, [7, 6, 5.5, 4.5, 2.5, 2, 1.8, 1.6]], [4.4, [6, 5.5, 5, 4, 3, 2.2, 2, 1.1, 1, 0.9]]];
const P45: Cluster[] = [[0.55, [3, 2.4, 1.9, 1.5, 1.2, 0.95, 0.75]], [0.65, [20, 6, 4, 2.8, 2.1, 1.6, 1.25, 1, 0.8, 0.62]], [0.75, [6, 4.5, 3.3, 2.5, 1.9, 1.5, 1.15, 0.9, 0.7, 0.5]], [0.85, [22, 18, 5, 3.5, 2.5, 1.9, 1.45, 1.1, 0.85, 0.65, 0.5, 0.3]], [0.95, [8, 5.5, 4, 3, 2.2, 1.7, 1.3, 1, 0.75, 0.55, 0.25]], [1.05, [12, 9, 7, 4, 3, 2.2, 1.7, 1.3, 1, 0.75, 0.06]], [1.15, [6, 3, 2.2, 1.7, 1.3, 1, 0.75, 0.11]], [1.25, [5, 2.5, 1.9, 1.5, 1.15, 0.9, 0.7, 0.35]], [1.4, [3, 2.2, 1.7, 1.35, 1.05, 0.8]], [1.55, [2.6, 2, 1.6, 1.25, 1, 0.2]], [1.75, [2, 1.6, 1.3, 1.05, 0.85]], [1.95, [5, 4, 3, 1.8, 1.4, 1.1, 0.9, 0.7]], [2.05, [4.5, 3.5, 1.6, 1.25, 0.95, 0.75]], [2.2, [1, 0.85, 0.7, 0.35]], [2.6, [2, 1.5, 1.2, 0.95, 0.8]], [2.75, [5.5, 1.1, 0.95, 0.85, 0.26]], [2.95, [1, 0.85, 0.7, 0.26]], [3.2, [0.75, 0.6]], [3.9, [2.5, 2, 1.6, 1.35, 1.15, 1, 0.85, 0.3]], [4.05, [1.3, 1.1, 0.95]], [4.3, [2.6, 2.1, 1.7, 1.4, 1.15]], [4.5, [3.5, 2.8, 2.2, 1.8, 1.5, 1.25, 1.05, 0.9]], [6, [0.72]], [6.5, [0.85, 0.8, 0.75, 0.7]]];

const P51: Cluster[] = [[0, [30, 22, 15, 10, 8, 6, 4.5, 3.5, 2.8, 2.3, 1.9, 1.6, 1.3, 1.1, 0.9, 0.75, 0.65, 0.55]], [0.1, [35, 18, 16, 12, 9, 7, 5, 4, 3.3, 2.7, 2.3, 1.9, 1.6, 1.35, 1.1, 0.95, 0.8, 0.68, 0.6]], [0.2, [24, 10, 8, 6, 4.5, 3.5, 2.8, 2.3, 1.9, 1.6, 1.35, 1.15, 0.98, 0.85, 0.72]], [0.3, [13, 9, 7, 5, 3.8, 3, 2.4, 2, 1.7, 1.4, 1.2, 1.02, 0.88, 0.75]], [0.4, [9, 7, 5, 3.5, 2.7, 2.2, 1.85, 1.55, 1.3, 1.1, 0.95, 0.82, 0.72]], [0.5, [8, 6.5, 5.5, 2.8, 2.3, 1.9, 1.6, 1.35, 1.15, 1, 0.88, 0.78, 0.7]], [0.6, [7, 5.5, 2.6, 2.1, 1.8, 1.5, 1.3, 1.1, 0.95, 0.85, 0.75]], [0.7, [7, 5.5, 2.5, 2, 1.7, 1.45, 1.25, 1.08, 0.95, 0.85, 0.75]], [0.8, [7, 5.5, 2.3, 1.9, 1.6, 1.4, 1.2, 1.05, 0.92, 0.82, 0.74]], [0.9, [7.5, 2.2, 1.8, 1.55, 1.35, 1.18, 1.03, 0.9, 0.8, 0.72]], [1, [8, 4, 2.1, 1.8, 1.55, 1.35, 1.18, 1.03, 0.9, 0.8, 0.72]]];
const P52: Cluster[] = [[0.2, [8, 7.5, 7, 6.5, 5.5]], [0.25, [3.5, 3, 2.6]], [0.3, [8, 6, 4, 3, 2.5, 2.1, 1.8, 1.5, 1.2]], [0.35, [10, 8, 5.5, 2.2, 1.7, 1.4, 1.15]], [0.4, [13, 9, 6.5, 3.8, 3, 2.4, 1.9, 1.6, 1.3, 1.05]], [0.45, [9, 7, 5, 4, 2.6, 2.1, 1.7, 1.4, 1.15, 0.95]], [0.5, [35, 22, 10, 6.5, 4.5, 3.5, 2.8, 2.3, 1.9, 1.55, 1.3, 1.05, 0.85]], [0.55, [12, 8, 5, 3, 2.5, 2, 1.7, 1.4, 1.15]], [0.6, [30, 17, 10, 7, 4, 3, 2.5, 2.1, 1.75, 1.45, 1.2, 1, 0.85]], [0.65, [11, 7, 5, 3.5, 2.6, 2, 1.6, 1.3, 1.05]], [0.7, [18, 13, 8, 6, 4, 3.3, 2.6, 2.1, 1.7, 0.75, 0.6, 0.5]], [0.75, [35, 25, 10, 8, 5, 4, 3, 2.2, 1.6, 1.2, 0.85, 0.7]], [0.8, [4, 2, 1.6, 1.3, 1.05, 0.85]], [0.95, [5.5, 4, 3, 2.4, 1.9, 1.55, 1.25, 1.05, 0.9]], [1.1, [18, 13, 7, 5.5, 4.5, 3.5, 2.8, 2.3, 1.9, 1.6, 1.35, 1.15, 0.95]], [1.15, [4, 3, 2.4, 2, 1.6, 1.3, 1.05]], [1.2, [2.2, 1.8, 1.5, 1.3, 1.1, 0.95]], [1.25, [1.2, 1.05, 0.9]], [1.45, [4, 2.6, 1.8, 1.45, 1.25, 1.1, 1]], [1.55, [3.5, 1.3, 1.05]], [1.7, [2.2, 1.9, 1.6, 1.4, 1.25, 1.1]], [1.95, [0.95, 0.85, 0.78]], [2.2, [20, 1.25, 1.1, 1]], [2.5, [1, 0.9, 0.8, 0.7]], [2.9, [1.1, 0.95, 0.85, 0.75]], [3.4, [1.2, 1.05, 1]], [3.6, [1.1, 1]]];
const P53: Cluster[] = [[30, [22, 12, 10, 3, 2.3, 2, 1.7]], [35, [11, 9, 8, 7, 6, 5, 4, 3.3, 2.7, 2.3, 2, 1.7, 1.5, 1.3, 1.1, 0.95]], [35.5, [5, 3, 2.5, 2.1, 1.8]], [37.5, [1.5, 1.25, 1.05, 0.9, 0.8, 0.7, 0.62]], [38.3, [10, 9, 7.5, 6.5, 5, 4, 3.3, 2.8, 2.4, 2, 1.7, 1.45, 1.25, 1.05]], [39.5, [1.5, 1.3, 1.1, 0.9]], [40, [2.4, 2.1, 1.9, 1.7]], [44, [38, 32, 28, 25, 20, 7, 4, 3, 2.4, 2, 1.6, 1.3, 1.1, 0.95, 0.82, 0.72]], [51, [1.2, 1.05, 0.95, 0.85]], [53.5, [8, 3.5, 3, 2.5, 2.2, 1.9, 1.6, 1.4, 1.2, 1.05]], [56.5, [20, 4, 2.5, 1.8, 1.4]], [58, [16, 12, 10, 9, 8, 6.5, 5, 3.5, 2.5, 1.8, 1.3, 1.1, 0.9]], [60, [9, 7, 4, 3.5, 3, 2.5, 2.1, 1.8, 1.5, 1.3, 1.1, 0.95, 0.85, 0.75]], [61.5, [2, 1.7, 1.5]], [65, [4, 3.5, 2.5, 2.1, 1.8, 1.5, 1.3, 1.1, 0.95]], [66, [3.2, 2.6, 2, 1.6, 1.4]], [69, [7, 6, 5, 4, 0.95, 0.85, 0.78]], [70.5, [1.9, 1.7, 1.5, 1.35]], [75, [0.9, 0.82, 0.78]], [77, [3.2, 2.2, 1.8, 1.5, 1.3]]];
const P54: Cluster[] = [[1, [1.5, 1.3, 1.1, 1, 0.9, 0.75]], [1.05, [2.5, 1.7, 1.4, 1.2, 1]], [1.1, [1.9, 1.6, 1.35, 1.15, 1, 0.85]], [1.15, [38, 30, 22, 17, 13, 10, 7, 5, 3.5, 2.5, 1.9, 1.5, 1.25, 1.05, 0.9]], [1.2, [12, 8, 5.5, 4, 3, 2.3, 1.8, 1.5, 1.25, 1.05, 0.9]], [1.25, [10, 7, 5, 3.5, 2.7, 2.1, 1.7, 1.4, 1.15, 0.95, 0.8]], [1.3, [17, 13, 9, 6, 4, 3, 2.4, 1.9, 1.55, 1.3, 1.1, 0.9, 0.6]], [1.35, [13, 8, 5.5, 3.8, 2.8, 2.2, 1.8, 1.5, 1.25, 1.05]], [1.4, [8, 6, 4.5, 3.2, 2.5, 2, 1.7, 1.4]], [1.55, [2.5, 2.2, 1.9, 1.7, 1.5]], [1.7, [22, 16, 3.5, 2.5, 1.9, 1.6]], [2.35, [3.2, 2.5, 2, 1.7, 1.4, 1.2]], [2.45, [1.6, 1.4, 1.2, 1]], [2.6, [0.95, 0.85, 0.8]], [3.35, [1.4, 1.2, 1, 0.9]], [3.8, [2.5, 1.9, 1.6, 1.4, 1.2, 1]], [3.9, [10, 9, 8, 6, 5, 4, 3.2, 2.6, 2.2, 1.8, 1.5, 1.3, 1.1, 0.95, 0.85, 0.75]], [4.2, [6, 5, 4, 2.5, 2, 1.6]], [4.4, [8, 6.5, 5, 1.5, 1.2, 1, 0.9]]];
const P55: Cluster[] = [[0.55, [13, 9, 6, 3.5, 2.5, 2, 1.7, 1.4]], [0.65, [35, 28, 10, 7, 4.5, 3.3, 2.6, 2.1, 1.7, 1.4, 1.15, 0.95]], [0.75, [13, 10, 7.5, 5, 3.5, 2.8, 2.2, 1.8, 1.5, 1.25, 1.05]], [0.85, [30, 25, 12, 8, 5, 3.5, 2.6, 2, 1.6, 1.3, 1.05, 0.75, 0.6]], [0.95, [16, 11, 8, 6, 4, 3, 2.3, 1.8, 1.45, 1.2, 1, 0.8]], [1.05, [30, 22, 13, 10, 6, 4, 3, 2.3, 1.8, 1.45, 1.2]], [1.15, [15, 6, 4, 3, 2.3, 1.8, 1.45, 1.2]], [1.25, [18, 9, 5.5, 3.5, 2.6, 2, 1.6, 1.3, 1.1]], [1.4, [5, 3.3, 2.5, 2, 1.6, 1.3, 1.1]], [1.55, [4, 2.8, 2.2, 1.8, 1.45, 1.2, 1]], [1.75, [2.4, 2, 1.7, 1.45, 1.25, 1.05]], [1.95, [9.5, 8, 6, 3, 2.2, 1.8, 1.5, 1.2, 1, 0.85]], [2.05, [7, 6, 2, 1.5, 1.2, 1, 0.8]], [2.2, [1.2, 1, 0.85, 0.75]], [2.6, [3.5, 2.5, 1.8, 1.5, 1.25, 1.05]], [2.75, [20, 1.5, 1.2, 1, 0.85]], [2.95, [1.1, 0.95, 0.8, 0.72]], [3.2, [0.9, 0.75]], [3.9, [5.5, 4, 3, 2.3, 1.8, 1.5, 1.25, 1.1, 1]], [4.05, [1.4, 1.2, 1.05]], [4.3, [4.5, 3.5, 2.5, 2, 1.6, 1.3, 1.15]], [4.5, [4, 3.2, 2.5, 2, 1.6, 1.35, 1.15, 1]], [6, [0.7]], [6.5, [1.4, 0.9, 0.85, 0.8, 0.75]]];

const POINTS: Cluster[][][] = [
  [P11, P12, P13, P14, P15],
  [P21, P22, P23, P24, P25],
  [P31, P32, P33, P34, P35],
  [P41, P42, P43, P44, P45],
  [P51, P52, P53, P54, P55],
];

// ---------- layout & style ----------
const FONT = '"Liberation Serif", "Times New Roman", serif';
const PLOT_L = [49, 296, 542, 790, 1031];
const PLOT_T = [14, 231, 449, 666, 884];
const PW = 224, PH = 178;
const PAD_L = 49, PAD_T = 14, PAD_R = 18, PAD_B = 30;
const TITLE_BOX = [[341, 532], [357, 517], [401, 523], [401, 523], [390, 528]];
// [anchor x from plot left, first line centre from plot top, alignment]
const STAT_POS: [number, number, string][][] = [
  [[217, 11, 'r'], [214, 29, 'r'], [218, 11, 'r'], [213, 11, 'r'], [217, 11, 'r']],
  [[8, 134, 'l'], [214, 29.5, 'r'], [218, 11, 'r'], [178, 138, 'r'], [217, 11, 'r']],
  [[217, 11, 'r'], [215, 30, 'r'], [218, 11, 'r'], [213, 11, 'r'], [217, 11, 'r']],
  [[217, 11.5, 'r'], [215, 29.5, 'r'], [218, 11.5, 'r'], [216, 11.5, 'r'], [217, 11.5, 'r']],
  [[217, 12, 'r'], [215, 29.5, 'r'], [218, 12, 'r'], [145, 12, 'r'], [217, 12, 'r']],
];
const EST_FILL = 'rgba(178,218,230,0.66)';
const CONF_FILL = 'rgba(48,118,192,0.86)';
const RED = '#e8141c';
const GRID = '#9c9c9c';

type Seg = { t: string; i?: boolean; s?: boolean };
const AXIS_NAME: Seg[][] = [
  [{ t: 'K' }],
  [{ t: 'ρ, %' }],
  [{ t: 'f', i: true }, { t: 'cm', i: true, s: true }, { t: ', MPa' }],
  [{ t: 'n', i: true }, { t: 'f', i: true, s: true }],
  [{ t: 'n', i: true }, { t: 'f', i: true, s: true }, { t: 'ρ' }],
];
const AXIS_NAME_R3C2: Seg[] = [{ t: ', %' }];

function fontOf(size: number, s: Seg) {
  const sz = s.s ? size * 0.7 : size;
  return `${s.i ? 'italic ' : ''}${sz}px ${FONT}`;
}
function segsWidth(ctx: CanvasRenderingContext2D, segs: Seg[], size: number, sx: number) {
  let w = 0;
  for (const s of segs) { ctx.font = fontOf(size, s); w += ctx.measureText(s.t).width; }
  return w * sx;
}
function drawSegs(ctx: CanvasRenderingContext2D, segs: Seg[], x: number, yc: number, size: number, sx: number, align: string, color: string) {
  const w = segsWidth(ctx, segs, size, sx);
  let cx = align === 'left' ? x : align === 'right' ? x - w : x - w / 2;
  const x0 = cx;
  const base = yc + size * 0.34;
  for (const s of segs) {
    ctx.font = fontOf(size, s);
    const sw = ctx.measureText(s.t).width;
    ctx.save();
    ctx.translate(cx, base + (s.s ? size * 0.2 : 0));
    ctx.scale(sx, 1);
    ctx.fillStyle = color;
    ctx.textAlign = 'left';
    ctx.textBaseline = 'alphabetic';
    ctx.fillText(s.t, 0, 0);
    ctx.restore();
    cx += sw * sx;
  }
  return [x0, x0 + w];
}

function annotations(r: number, c: number) {
  return {
    id: 'ann',
    afterDatasetsDraw(chart: any) {
      const ctx: CanvasRenderingContext2D = chart.ctx;
      const { left: L, top: T, right: R, bottom: B } = chart.chartArea;
      const xs = chart.scales.x, ys = chart.scales.y;
      ctx.save();
      // top frame
      ctx.strokeStyle = '#000'; ctx.lineWidth = 1.5;
      ctx.beginPath(); ctx.moveTo(L - 1, T); ctx.lineTo(R, T); ctx.stroke();
      // tick labels
      if (c === 0) for (const v of Y_TICKS) drawSegs(ctx, [{ t: String(v) }], L - 10, ys.getPixelForValue(v), 16.5, 1.34, 'right', '#000');
      for (const v of X_TICKS[c]) drawSegs(ctx, [{ t: String(v) }], xs.getPixelForValue(v), B + 15, 18, 1.28, 'center', '#000');
      // Δ
      ctx.fillStyle = '#fff'; ctx.fillRect(L + 13, T - 4, 28, 18);
      drawSegs(ctx, [{ t: 'Δ' }], L + 24, T + 3, 19, 1.15, 'center', '#000');
      // axis name
      const an = r === 2 && c === 1 ? AXIS_NAME_R3C2 : AXIS_NAME[c];
      const aw = segsWidth(ctx, an, 16, 1.2);
      ctx.fillStyle = '#fff'; ctx.fillRect(R - 14 - aw - 9, B - 29, aw + 22, 26);
      drawSegs(ctx, an, R - 14, B - 16, 16, 1.2, 'right', '#000');
      // statistics
      const [ax, ay, al] = STAT_POS[r][c];
      const lines = STATS[r][c];
      const SZ = 14, SX = 1.38, LH = 13.7;
      const segsOf = (t: string): Seg[] => [{ t: t[0], i: true }, { t: t.slice(1) }];
      const maxW = Math.max(...lines.map((t) => segsWidth(ctx, segsOf(t), SZ, SX)));
      const X = L + ax, Y0 = T + ay;
      let bx0: number, bx1: number;
      if (al === 'r') { bx0 = X - maxW - 5; bx1 = ax > 200 ? R + 1 : X + 5; } else { bx0 = L + 1.5; bx1 = X + maxW + 5; }
      const by0 = ay < 20 ? T - 1.5 : Y0 - 10;
      const by1 = Y0 + 2 * LH + 9;
      ctx.fillStyle = '#fff'; ctx.fillRect(bx0, by0, bx1 - bx0, by1 - by0);
      lines.forEach((t, i) => {
        const struck = STRUCK[r][c][i] === 1;
        const col = struck ? RED : '#000';
        const yc = Y0 + i * LH;
        const [s0, s1] = drawSegs(ctx, segsOf(t), X, yc, SZ, SX, al === 'r' ? 'right' : 'left', col);
        if (struck) {
          ctx.strokeStyle = RED; ctx.lineWidth = 1.3;
          ctx.beginPath(); ctx.moveTo(s0 - 1, yc); ctx.lineTo(s1 + 1, yc); ctx.stroke();
        }
      });
      // code title
      if (c === 1) {
        const [x1, x2] = TITLE_BOX[r];
        const bx = L + (x1 - PLOT_L[1]), bw = x2 - x1, by = T - 6, bh = 23;
        ctx.fillStyle = '#fff'; ctx.fillRect(bx, by, bw, bh);
        ctx.strokeStyle = '#000'; ctx.lineWidth = 1.2; ctx.strokeRect(bx, by, bw, bh);
        const ts: Seg[] = [{ t: TITLES[r], i: true }];
        const w0 = segsWidth(ctx, ts, 16.5, 1);
        drawSegs(ctx, ts, bx + bw / 2, by + bh / 2, 16.5, (bw - 14) / w0, 'center', '#000');
      }
      ctx.restore();
    },
  };
}

function makeConfig(r: number, c: number): any {
  const a = REG_A[r][c], b = REG_B[r][c];
  const [xL, xR] = BAND_X[c];
  const xM = MID_X[c];
  const reg = (x: number) => Math.exp(a + b * x);
  const [uL, uR, lL, lR] = EST[r][c];
  const [wL, wM, wR] = CONF[r][c];
  const pts: { x: number; y: number }[] = [];
  for (const [x, ys] of POINTS[r][c]) for (const y of ys) pts.push({ x, y });
  const base = { pointRadius: 0, tension: 0, fill: false };
  const estLine = { ...base, borderColor: '#000', borderWidth: 1.1, borderDash: [8, 4] };
  const confLine = { ...base, borderColor: '#0d1b2a', borderWidth: 1, borderDash: [3, 2] };
  return {
    type: 'line',
    data: {
      datasets: [
        { ...base, data: pts, showLine: false, pointRadius: 2.0, pointBorderWidth: 1.1, pointBorderColor: '#000', pointBackgroundColor: '#fff', order: 0 },
        { ...base, data: [{ x: xL, y: reg(xL) }, { x: xR, y: reg(xR) }], borderColor: RED, borderWidth: 2.2, order: 1 },
        { ...confLine, data: [{ x: xL, y: reg(xL) * Math.exp(wL) }, { x: xM, y: reg(xM) * Math.exp(wM) }, { x: xR, y: reg(xR) * Math.exp(wR) }], fill: '+1', backgroundColor: CONF_FILL, order: 2 },
        { ...confLine, data: [{ x: xL, y: reg(xL) / Math.exp(wL) }, { x: xM, y: reg(xM) / Math.exp(wM) }, { x: xR, y: reg(xR) / Math.exp(wR) }], order: 2 },
        { ...base, data: [{ x: X_MIN[c], y: 1 }, { x: X_MAX[c], y: 1 }], borderColor: '#000', borderWidth: 2, order: 3 },
        { ...estLine, data: [{ x: xL, y: uL }, { x: xR, y: uR }], fill: '+1', backgroundColor: EST_FILL, order: 4 },
        { ...estLine, data: [{ x: xL, y: lL }, { x: xR, y: lR }], order: 4 },
      ],
    },
    options: {
      animation: false,
      responsive: false,
      devicePixelRatio: 1,
      events: [],
      layout: { padding: { left: 0, top: PAD_T, right: PAD_R, bottom: 0 } },
      plugins: { legend: { display: false }, tooltip: { enabled: false } },
      scales: {
        x: {
          type: 'linear', min: X_MIN[c], max: X_MAX[c],
          afterBuildTicks: (s: any) => { s.ticks = X_TICKS[c].map((v) => ({ value: v })); },
          afterFit: (s: any) => { s.height = PAD_B; },
          ticks: { display: false },
          grid: { color: GRID, lineWidth: 1.3, drawTicks: false },
          border: { color: '#000', width: 2.5, z: 1 },
        },
        y: {
          type: 'logarithmic', min: Y_MIN, max: Y_MAX,
          afterBuildTicks: (s: any) => { s.ticks = Y_TICKS.map((v) => ({ value: v })); },
          afterFit: (s: any) => { s.width = PAD_L; },
          ticks: { display: false },
          grid: { color: GRID, lineWidth: 1.3, drawTicks: true, tickLength: 9, tickColor: '#333' },
          border: { color: '#000', width: 2, z: 1 },
        },
      },
    },
    plugins: [annotations(r, c)],
  };
}

function Panel({ r, c }: { r: number; c: number }) {
  const ref = useRef<HTMLCanvasElement>(null);
  useEffect(() => {
    const chart = new Chart(ref.current as HTMLCanvasElement, makeConfig(r, c));
    return () => chart.destroy();
  }, [r, c]);
  const w = PAD_L + PW + PAD_R, h = PAD_T + PH + PAD_B;
  return (
    <canvas ref={ref} width={w} height={h}
      style={{ position: 'absolute', left: PLOT_L[c] - PAD_L, top: PLOT_T[r] - PAD_T, width: w, height: h }} />
  );
}

const LEG_TXT: React.CSSProperties = {
  position: 'absolute', top: 1094, font: `15px ${FONT}`, lineHeight: '20px',
  transform: 'scaleX(1.25)', transformOrigin: 'left center', whiteSpace: 'nowrap', color: '#000',
};

export default function App() {
  const panels = [];
  for (let r = 0; r < 5; r++) for (let c = 0; c < 5; c++) panels.push(<Panel key={`${r}-${c}`} r={r} c={c} />);
  return (
    <div style={{ position: 'absolute', left: 0, top: 0, width: 1265, height: 1114, overflow: 'hidden', background: '#fff' }}>
      {panels}
      <div style={{ position: 'absolute', left: 60, top: 1101, width: 6, height: 6, border: '1px solid #000', borderRadius: '50%', boxSizing: 'border-box' }} />
      <span style={{ ...LEG_TXT, left: 77 }}>Experimental points</span>
      <div style={{ position: 'absolute', left: 252, top: 1103, width: 28, height: 2, background: RED }} />
      <span style={{ ...LEG_TXT, left: 291 }}>Regression line</span>
      <div style={{ position: 'absolute', left: 434, top: 1097, width: 29, height: 14, background: 'rgb(52,112,186)', border: '1px dashed #0a1a30', boxSizing: 'border-box' }} />
      <span style={{ ...LEG_TXT, left: 476 }}>95% confidence interval</span>
      <div style={{ position: 'absolute', left: 686, top: 1097, width: 30, height: 14, background: 'rgb(205,231,239)', border: '1px dashed #777', boxSizing: 'border-box' }} />
      <span style={{ ...LEG_TXT, left: 729 }}>95% estimates interval</span>
    </div>
  );
}
